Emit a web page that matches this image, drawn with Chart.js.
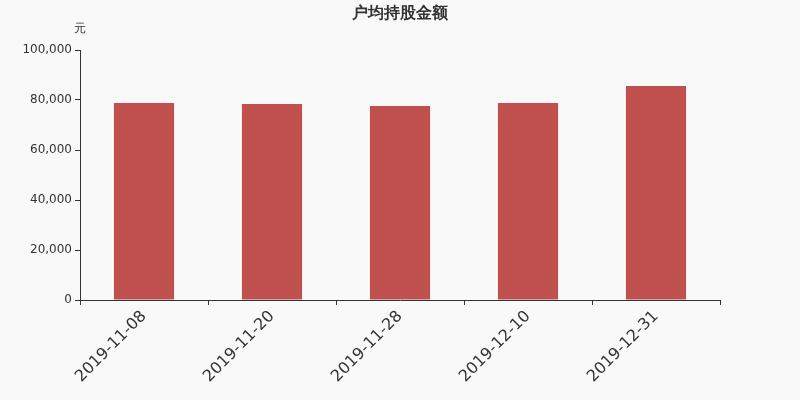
<!DOCTYPE html>
<html>
<head>
<meta charset="utf-8">
<script src="https://cdn.jsdelivr.net/npm/chart.js@4"></script>
<style>
  html, body { margin: 0; padding: 0; background: #f9f9f9; }
  #wrap { width: 800px; height: 400px; }
</style>
</head>
<body>
<div id="wrap"><canvas id="myChart"></canvas></div>
<script>
// data
const dates = ['2019-11-08', '2019-11-20', '2019-11-28', '2019-12-10', '2019-12-31'];
const avgHolding = [78800, 78400, 77600, 78800, 85600];
const chartTitle = '户均持股金额';
const unitLabel = '元';

const fontFamily = '"DejaVu Sans", sans-serif';

// title and unit text above the plot
const headerPlugin = {
    id: 'header',
    afterDraw(chart) {
        const ctx = chart.ctx;
        ctx.save();
        ctx.fillStyle = '#333';
        ctx.textAlign = 'center';
        ctx.textBaseline = 'middle';
        ctx.font = 'bold 16px ' + fontFamily;
        ctx.fillText(chartTitle, chart.width / 2, 14);
        ctx.font = '12px ' + fontFamily;
        ctx.fillText(unitLabel, chart.chartArea.left, 29);
        ctx.restore();
    }
};

const bgPlugin = {
    id: 'bg',
    beforeDraw(chart) {
        const ctx = chart.ctx;
        ctx.save();
        ctx.fillStyle = '#f9f9f9';
        ctx.fillRect(0, 0, chart.width, chart.height);
        ctx.restore();
    }
};

const ctx = document.getElementById('myChart').getContext('2d');
new Chart(ctx, {
    type: 'bar',
    data: {
        labels: dates,
        datasets: [{
            label: chartTitle,
            data: avgHolding,
            backgroundColor: '#c0504d',
            barPercentage: 0.47,
            categoryPercentage: 1
        }]
    },
    options: {
        responsive: true,
        maintainAspectRatio: false,
        animation: false,
        layout: { padding: { top: 50, right: 80, left: 0, bottom: 0 } },
        plugins: {
            legend: { display: false },
            title: { display: false },
            tooltip: { enabled: false }
        },
        scales: {
            x: {
                offset: true,
                grid: {
                    offset: true,
                    drawOnChartArea: false,
                    drawTicks: true,
                    tickLength: 5,
                    color: '#333'
                },
                border: { color: '#333' },
                ticks: {
                    color: '#333',
                    maxRotation: 45,
                    minRotation: 45,
                    padding: 2,
                    font: { family: fontFamily, size: 16 }
                },
                afterFit(scale) { scale.height = 100; }
            },
            y: {
                min: 0,
                max: 100000,
                grid: {
                    drawOnChartArea: false,
                    drawTicks: true,
                    tickLength: 5,
                    color: '#333'
                },
                border: { color: '#333' },
                ticks: {
                    stepSize: 20000,
                    color: '#333',
                    padding: 3,
                    font: { family: fontFamily, size: 12 },
                    callback: v => v.toLocaleString('en-US')
                },
                afterFit(scale) { scale.width = 80; }
            }
        }
    },
    plugins: [bgPlugin, headerPlugin]
});
</script>
</body>
</html>
